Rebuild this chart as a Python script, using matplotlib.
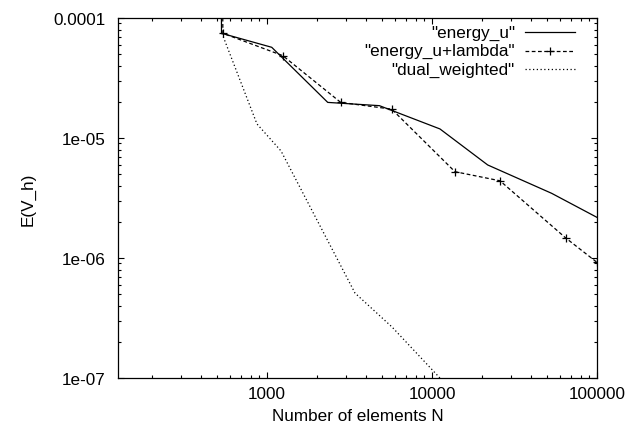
import matplotlib
matplotlib.use("Agg")
import matplotlib.pyplot as plt
from matplotlib.lines import Line2D
from matplotlib.ticker import LogLocator, NullFormatter, FixedLocator

plt.rcParams['font.family'] = ['Liberation Sans', 'DejaVu Sans']

# Data
n_energy_u = [525, 530, 1068, 2334, 4798, 11170, 21760, 53090, 100000]
e_energy_u = [1e-3, 7.46e-5, 5.7e-5, 1.98e-5, 1.86e-5, 1.19e-5, 5.96e-6, 3.46e-6, 2.18e-6]

n_energy_ul = [535, 540, 1245, 2797, 5697, 13770, 25830, 64580, 100000]
e_energy_ul = [1e-3, 7.46e-5, 4.86e-5, 1.98e-5, 1.74e-5, 5.24e-6, 4.4e-6, 1.47e-6, 9.2e-7]

n_dual = [533, 869, 1216, 3415, 5725, 12000]
e_dual = [7.46e-5, 1.31e-5, 7.8e-6, 5.1e-7, 2.66e-7, 9.0e-8]

labels = ['"energy_u"', '"energy_u+lambda"', '"dual_weighted"']
x_ticks = [1000, 10000, 100000]
x_tick_labels = ['1000', '10000', '100000']
y_ticks = [1e-7, 1e-6, 1e-5, 1e-4]
y_tick_labels = ['1e-07', '1e-06', '1e-05', '0.0001']

FS = 12.3

fig = plt.figure(figsize=(6.27, 4.35), dpi=100)
ax = fig.add_axes([118/627, 1-379/435, 479/627, 360/435])

lw = 0.9
ax.plot(n_energy_u, e_energy_u, color='black', lw=lw, linestyle='-')
ax.plot(n_energy_ul, e_energy_ul, color='black', lw=lw, linestyle=(0, (3, 2)),
        marker='+', markersize=6, markeredgewidth=0.9)
ax.plot(n_dual, e_dual, color='black', lw=lw, linestyle=(0, (1, 2.0)))

ax.set_xscale('log')
ax.set_yscale('log')
ax.set_xlim(125, 100000)
ax.set_ylim(1e-7, 1e-4)

ax.xaxis.set_major_locator(FixedLocator(x_ticks))
ax.set_xticklabels(x_tick_labels)
ax.yaxis.set_major_locator(FixedLocator(y_ticks))
ax.set_yticklabels(y_tick_labels)
ax.xaxis.set_minor_locator(LogLocator(base=10, subs=range(2, 10)))
ax.yaxis.set_minor_locator(LogLocator(base=10, subs=range(2, 10)))
ax.xaxis.set_minor_formatter(NullFormatter())
ax.yaxis.set_minor_formatter(NullFormatter())

ax.tick_params(which='both', direction='in', top=True, right=True, width=0.8, labelsize=FS, colors='black')
ax.tick_params(which='major', length=4)
ax.tick_params(which='minor', length=2)
ax.tick_params(axis='x', pad=6)
ax.tick_params(axis='y', pad=9)
for s in ax.spines.values():
    s.set_linewidth(0.9)

ax.set_xlabel('Number of elements N', fontsize=FS, labelpad=5)
ax.set_ylabel('E(V_h)', fontsize=FS, labelpad=13)

# gnuplot-style legend: right-aligned text, sample on the right
ys = [0.960, 0.909, 0.858]
styles = [dict(linestyle='-'), dict(linestyle=(0, (3, 2))), dict(linestyle=(0, (1, 2.0)))]
for i, (lab, y, st) in enumerate(zip(labels, ys, styles)):
    ax.text(0.8288, y, lab, transform=ax.transAxes, ha='right', va='center', fontsize=FS)
    ax.add_line(Line2D([0.8497, 0.954], [y, y], transform=ax.transAxes, color='black', lw=lw, **st))
    if i == 1:
        ax.add_line(Line2D([0.9018], [y], transform=ax.transAxes, color='black',
                           marker='+', markersize=6, markeredgewidth=0.9, linestyle='none'))

fig.savefig('out.png', dpi=100)
